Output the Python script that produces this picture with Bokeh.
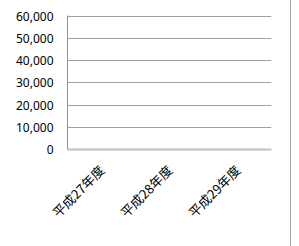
from math import pi
from bokeh.plotting import figure
from bokeh.models import Range1d, NumeralTickFormatter, FixedTicker
from bokeh.embed import file_html
from bokeh.resources import INLINE

categories = ["平成27年度", "平成28年度", "平成29年度"]
values = [0, 0, 0]
y_ticks = [0, 10000, 20000, 30000, 40000, 50000, 60000]

p = figure(x_range=categories, y_range=Range1d(0, 60300),
           width=291, height=246, output_backend="svg", toolbar_location=None,
           min_border_left=67, min_border_right=20, min_border_top=15, min_border_bottom=97)
p.vbar(x=categories, top=values, width=0.5, fill_color="#4472c4", line_alpha=0)

p.outline_line_color = None
p.xgrid.grid_line_color = None
p.ygrid.grid_line_color = "#a0a0a0"
p.ygrid.grid_line_width = 1

p.yaxis.ticker = FixedTicker(ticks=y_ticks)
p.yaxis.formatter = NumeralTickFormatter(format="0,0")
p.yaxis.axis_line_color = "#909090"
p.yaxis.major_tick_line_color = None
p.yaxis.minor_tick_line_color = None
p.yaxis.major_label_standoff = 8
p.yaxis.major_label_text_font = "Noto Sans"
p.yaxis.major_label_text_font_size = "12px"
p.yaxis.major_label_text_color = "black"

p.xaxis.axis_line_color = "#c0c0c0"
p.xaxis.axis_line_width = 2
p.xaxis.major_tick_line_color = None
p.xaxis.minor_tick_line_color = None
p.xaxis.major_label_orientation = pi / 4
p.xaxis.major_label_standoff = 12
p.xaxis.major_label_text_font = "Noto Sans CJK JP"
p.xaxis.major_label_text_font_size = "13px"
p.xaxis.major_label_text_color = "black"

p.styles = {"border-right": "1px solid #a6a6a6"}

open("out.html", "w").write(file_html(p, INLINE))
